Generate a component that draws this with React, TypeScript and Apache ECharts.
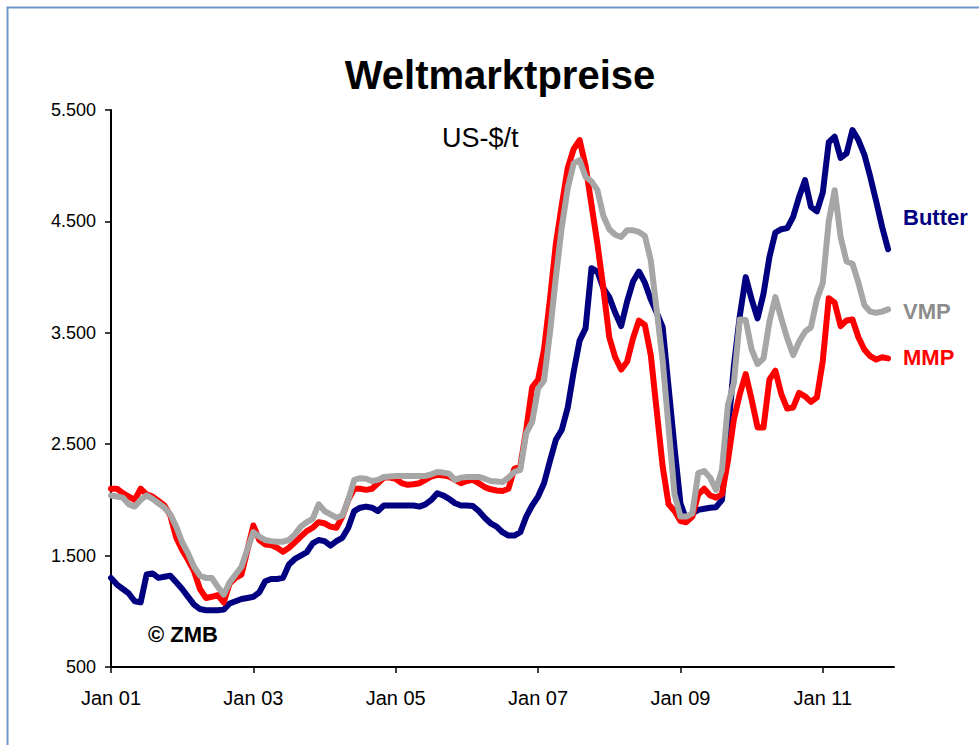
import React, { useEffect, useRef } from "react";
import * as echarts from "echarts";

const monthNames = ["Jan", "Feb", "Mär", "Apr", "Mai", "Jun", "Jul", "Aug", "Sep", "Okt", "Nov", "Dez"];
const years = ["01", "02", "03", "04", "05", "06", "07", "08", "09", "10", "11"];
const categories: string[] = [];
years.forEach((y) => monthNames.forEach((m) => categories.push(m + " " + y)));
categories.push("Jan 12");

const seriesNames = ["Butter", "MMP", "VMP"];

const butter = [
  1300, 1240, 1200, 1160, 1090, 1080, 1330, 1340, 1300, 1310, 1320, 1260,
  1200, 1130, 1060, 1020, 1010, 1010, 1010, 1015, 1070, 1090, 1110, 1120,
  1130, 1170, 1270, 1290, 1290, 1300, 1420, 1470, 1500, 1530, 1610, 1640,
  1630, 1590, 1630, 1660, 1750, 1900, 1930, 1940, 1930, 1900, 1950, 1950,
  1950, 1950, 1950, 1950, 1940, 1960, 2000, 2060, 2040, 2010, 1970, 1950,
  1950, 1945, 1900, 1840, 1790, 1760, 1710, 1680, 1680, 1710, 1850, 1950,
  2030, 2150, 2350, 2540, 2630, 2830, 3150, 3430, 3540, 4080, 4050, 3900,
  3820, 3680, 3560, 3780, 3960, 4050, 3950, 3800, 3680, 3550, 3010, 2470,
  1970, 1820, 1880, 1910, 1920, 1930, 1935, 2000, 2600, 3200, 3650, 4000,
  3800, 3630, 3850, 4180, 4400, 4430, 4440, 4540, 4720, 4870, 4630, 4590,
  4760, 5210, 5260, 5070, 5110, 5320, 5230, 5100, 4900, 4680, 4450, 4250,
];

const mmp = [
  2100, 2100, 2060, 2030, 2000, 2100, 2050, 2030, 1990, 1950, 1860, 1660,
  1550, 1460, 1360, 1200, 1120, 1130, 1145, 1080, 1250, 1300, 1330, 1550,
  1770, 1640, 1600, 1595, 1570, 1535, 1570, 1620, 1670, 1720, 1750, 1800,
  1790, 1760, 1750, 1850, 2000, 2100, 2100, 2090, 2100, 2150, 2200, 2200,
  2190, 2150, 2135, 2140, 2150, 2180, 2210, 2225, 2220, 2210, 2180, 2150,
  2170, 2180, 2150, 2115, 2095, 2085, 2080, 2100, 2280, 2300, 2630, 3010,
  3080, 3350, 3800, 4300, 4650, 4980, 5150, 5230, 5000, 4650, 4300, 3900,
  3460, 3280, 3170, 3240, 3450, 3610, 3570, 3300, 2800, 2300, 1960, 1900,
  1810, 1800, 1850, 2050, 2100, 2040, 2020, 2050, 2350, 2720, 2950, 3130,
  2900, 2650, 2650, 3080, 3160, 2950, 2820, 2830, 2960, 2930, 2880, 2920,
  3250, 3810, 3770, 3560, 3610, 3620, 3460, 3350, 3290, 3260, 3280, 3270,
];

const vmp = [
  2040, 2030, 2020, 1960, 1940, 2000, 2040, 2010, 1970, 1930, 1870, 1760,
  1620, 1520, 1400, 1320, 1300, 1300, 1220, 1150, 1260, 1330, 1400, 1560,
  1710, 1670, 1640, 1630, 1625, 1625, 1640, 1690, 1760, 1800, 1830, 1960,
  1900, 1870, 1840, 1860, 2000, 2180, 2195, 2190, 2170, 2180, 2205, 2210,
  2215, 2215, 2215, 2215, 2215, 2215, 2230, 2250, 2245, 2235, 2180, 2200,
  2206, 2206, 2206, 2190, 2170, 2165, 2160, 2200, 2250, 2270, 2600, 2700,
  3000, 3070, 3500, 4000, 4450, 4800, 5020, 5050, 4900, 4860, 4780, 4550,
  4430, 4380, 4360, 4420, 4420, 4405, 4370, 4150, 3700, 3250, 2650, 2050,
  1850, 1850, 1880, 2240, 2260, 2200, 2090, 2270, 2850, 3050, 3620, 3615,
  3350, 3220, 3270, 3600, 3820, 3630, 3450, 3300, 3420, 3510, 3550, 3800,
  3950, 4500, 4780, 4360, 4140, 4120, 3950, 3750, 3690, 3680, 3690, 3710,
];

const colors = ["#000080", "#FF0000", "#A6A6A6"];
const labelColors = ["#000080", "#FF0000", "#8C8C8C"];
const yTicks = [500, 1500, 2500, 3500, 4500, 5500];

const FONT = "'Liberation Sans', Arial, sans-serif";

function deFormat(v: number): string {
  const s = String(Math.round(v));
  return s.replace(/\B(?=(\d{3})+(?!\d))/g, ".");
}

const isMajor = (i: number) => i % 24 === 0;

export default function App() {
  const ref = useRef<HTMLDivElement>(null);
  useEffect(() => {
    document.body.style.margin = "0";
    if (!ref.current) return;
    const chart = echarts.init(ref.current, undefined, { renderer: "svg" });
    const dataSets = [butter, mmp, vmp];
    chart.setOption({
      animation: false,
      backgroundColor: "#ffffff",
      textStyle: { fontFamily: FONT },
      grid: { left: 111, right: 85, top: 110, bottom: 78, containLabel: false },
      xAxis: {
        type: "category",
        data: categories,
        boundaryGap: false,
        axisLine: { show: true, lineStyle: { color: "#000", width: 2 } },
        axisTick: { show: true, interval: (i: number) => isMajor(i), length: 6, lineStyle: { color: "#000", width: 1.5 } },
        axisLabel: { interval: (i: number) => isMajor(i), color: "#000", fontSize: 20, margin: 21, fontFamily: FONT },
        splitLine: { show: false },
      },
      yAxis: {
        type: "value",
        min: yTicks[0],
        max: yTicks[yTicks.length - 1],
        interval: 1000,
        axisLine: { show: true, lineStyle: { color: "#000", width: 2 } },
        axisTick: { show: true, length: 6, lineStyle: { color: "#000", width: 1.5 } },
        axisLabel: { color: "#000", fontSize: 18, margin: 15, fontFamily: FONT, formatter: (v: number) => deFormat(v) },
        splitLine: { show: false },
      },
      series: seriesNames.map((name, k) => ({
        name,
        type: "line",
        data: dataSets[k],
        symbol: "none",
        smooth: false,
        lineStyle: { color: colors[k], width: 6, cap: "round", join: "round" },
        z: 2 + k,
      })),
      graphic: [
        {
          type: "rect",
          left: 5,
          top: 5,
          shape: { x: 0, y: 0, width: 1000, height: 800 },
          style: { fill: "none", stroke: "#6F96CC", lineWidth: 2 },
          silent: true,
        },
        {
          type: "text",
          x: 500,
          y: 75,
          style: { text: "Weltmarktpreise", fill: "#000", font: `bold 40px ${FONT}`, textAlign: "center", textVerticalAlign: "middle" },
        },
        {
          type: "text",
          x: 442,
          y: 138,
          style: { text: "US-$/t", fill: "#000", font: `27px ${FONT}`, textAlign: "left", textVerticalAlign: "middle" },
        },
        {
          type: "text",
          x: 148,
          y: 634,
          style: { text: "© ZMB", fill: "#000", font: `bold 22px ${FONT}`, textAlign: "left", textVerticalAlign: "middle" },
        },
        ...seriesNames.map((name, k) => ({
          type: "text",
          x: 903,
          y: [217, 357, 311][k],
          style: { text: name, fill: labelColors[k], font: `bold 22px ${FONT}`, textAlign: "left", textVerticalAlign: "middle" },
        })),
      ],
    });
    return () => chart.dispose();
  }, []);
  return <div ref={ref} style={{ width: 979, height: 745 }} />;
}
